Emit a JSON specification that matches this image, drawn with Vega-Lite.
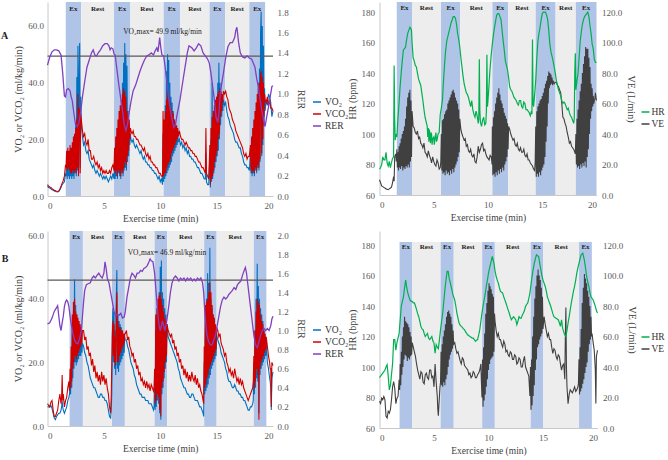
{
"$schema":"https://vega.github.io/schema/vega-lite/v6.json",
"autosize":{"type":"none"},
"padding":{"left":47.5,"top":2,"right":620,"bottom":458},
"config":{"font":"Liberation Serif","view":{"stroke":null},
"axis":{"grid":false,"ticks":false,"labelOverlap":false,"labelFont":"Liberation Serif","titleFont":"Liberation Serif","labelFontSize":9,"labelColor":"#595959","titleFontSize":10,"titleFontWeight":"normal","titleColor":"#404040","domainColor":"#C8C8C8","labelPadding":4,"titlePadding":4},
"legend":{"labelFont":"Liberation Serif","labelFontSize":9.5,"labelColor":"#333333","symbolType":"stroke","symbolSize":64,"symbolStrokeWidth":1.5,"rowPadding":2,"labelOffset":3}},
"datasets":{
"bTL":[{"a":1.62,"b":2.99,"m":2.3,"k":"Ex"},{"a":2.99,"b":5.9,"m":4.45,"k":"Rest"},{"a":5.9,"b":7.35,"m":6.62,"k":"Ex"},{"a":7.35,"b":10.3,"m":8.82,"k":"Rest"},{"a":10.3,"b":11.75,"m":11.02,"k":"Ex"},{"a":11.75,"b":14.38,"m":13.06,"k":"Rest"},{"a":14.38,"b":15.75,"m":15.06,"k":"Ex"},{"a":15.75,"b":17.9,"m":16.82,"k":"Rest"},{"a":17.9,"b":19.3,"m":18.6,"k":"Ex"}],
"bTR":[{"a":1.59,"b":3.0,"m":2.3,"k":"Ex"},{"a":3.0,"b":5.67,"m":4.33,"k":"Rest"},{"a":5.67,"b":7.44,"m":6.55,"k":"Ex"},{"a":7.44,"b":10.41,"m":8.92,"k":"Rest"},{"a":10.41,"b":11.85,"m":11.13,"k":"Ex"},{"a":11.85,"b":14.4,"m":13.12,"k":"Rest"},{"a":14.4,"b":16.23,"m":15.31,"k":"Ex"},{"a":16.23,"b":18.1,"m":17.16,"k":"Rest"},{"a":18.1,"b":20,"m":19.05,"k":"Ex"}],
"bBL":[{"a":1.96,"b":3.14,"m":2.55,"k":"Ex"},{"a":3.14,"b":5.72,"m":4.43,"k":"Rest"},{"a":5.72,"b":6.86,"m":6.29,"k":"Ex"},{"a":6.86,"b":9.5,"m":8.18,"k":"Rest"},{"a":9.5,"b":10.62,"m":10.06,"k":"Ex"},{"a":10.62,"b":13.9,"m":12.26,"k":"Rest"},{"a":13.9,"b":15.0,"m":14.45,"k":"Ex"},{"a":15.0,"b":18.3,"m":16.65,"k":"Rest"},{"a":18.3,"b":19.41,"m":18.86,"k":"Ex"}],
"bBR":[{"a":1.84,"b":3.0,"m":2.42,"k":"Ex"},{"a":3.0,"b":5.61,"m":4.3,"k":"Rest"},{"a":5.61,"b":6.81,"m":6.21,"k":"Ex"},{"a":6.81,"b":9.42,"m":8.12,"k":"Rest"},{"a":9.42,"b":10.58,"m":10.0,"k":"Ex"},{"a":10.58,"b":13.87,"m":12.22,"k":"Rest"},{"a":13.87,"b":15.03,"m":14.45,"k":"Ex"},{"a":15.03,"b":18.31,"m":16.67,"k":"Rest"},{"a":18.31,"b":19.48,"m":18.9,"k":"Ex"}],
"TL":[{"t":0,"o":3.5,"c":4},{"t":0.1,"o":3,"c":3.5},{"t":0.2,"o":2.8,"c":3.2},{"t":0.3,"o":2.5,"c":3},{"t":0.4,"o":2.2,"c":2.6},{"t":0.5,"o":2,"c":2.3},{"t":0.6,"o":1.8,"c":2},{"t":0.7,"o":1.6,"c":1.9},{"t":0.8,"o":1.5,"c":1.7},{"t":0.9,"o":1.4,"c":1.6},{"t":1,"o":1.6,"c":1.8},{"t":1.1,"o":2.2,"c":2.5},{"t":1.2,"o":3,"c":3.5},{"t":1.3,"o":4,"c":4.5},{"t":1.4,"o":4.5,"c":5.5},{"t":1.5,"o":5,"c":7},{"t":1.6,"o":8,"c":11},
{"t":1.65,"o":7,"c":10},{"t":1.7,"o":12,"c":16},{"t":1.75,"o":6,"c":9},{"t":1.8,"o":13,"c":17},{"t":1.85,"o":7,"c":10},{"t":1.9,"o":12,"c":16},{"t":1.95,"o":6,"c":9},{"t":2,"o":14,"c":18},{"t":2.05,"o":7,"c":8},{"t":2.1,"o":13,"c":17},{"t":2.15,"o":6,"c":8},{"t":2.2,"o":15,"c":19},{"t":2.25,"o":7,"c":9},{"t":2.3,"o":17,"c":21},{"t":2.35,"o":6,"c":8},{"t":2.4,"o":20,"c":22},{"t":2.45,"o":8,"c":9},{"t":2.5,"o":26,"c":24},{"t":2.55,"o":7,"c":8},{"t":2.6,"o":42,"c":27},{"t":2.65,"o":9,"c":10},{"t":2.7,"o":53,"c":36},{"t":2.75,"o":8,"c":7},{"t":2.8,"o":40,"c":31},{"t":2.85,"o":54,"c":30},{"t":2.9,"o":10,"c":8},{"t":2.95,"o":35,"c":29},{"t":3,"o":25,"c":27},
{"t":3.1,"o":21,"c":23},{"t":3.2,"o":18,"c":21},{"t":3.3,"o":19,"c":22},{"t":3.4,"o":16,"c":19},{"t":3.5,"o":15,"c":18},{"t":3.6,"o":16,"c":20},{"t":3.7,"o":13,"c":16},{"t":3.8,"o":12,"c":16},{"t":3.9,"o":11,"c":13},{"t":4,"o":10,"c":13},{"t":4.1,"o":11,"c":14},{"t":4.2,"o":9,"c":12},{"t":4.3,"o":8,"c":11},{"t":4.4,"o":9,"c":12},{"t":4.5,"o":8,"c":10},{"t":4.6,"o":7,"c":11},{"t":4.7,"o":8,"c":9},{"t":4.8,"o":7,"c":10},{"t":4.9,"o":6,"c":8},{"t":5,"o":7,"c":9},{"t":5.1,"o":6,"c":8},{"t":5.2,"o":7,"c":9},{"t":5.3,"o":6,"c":8},{"t":5.4,"o":5,"c":8},{"t":5.5,"o":6,"c":9},{"t":5.6,"o":7,"c":8},{"t":5.7,"o":6,"c":10},{"t":5.8,"o":8,"c":11},{"t":5.9,"o":6,"c":9},
{"t":5.95,"o":14,"c":17},{"t":6,"o":6,"c":8},{"t":6.05,"o":18,"c":21},{"t":6.1,"o":7,"c":9},{"t":6.15,"o":20,"c":24},{"t":6.2,"o":6,"c":7},{"t":6.25,"o":22,"c":27},{"t":6.3,"o":8,"c":9},{"t":6.35,"o":25,"c":30},{"t":6.4,"o":7,"c":8},{"t":6.45,"o":27,"c":32},{"t":6.5,"o":6,"c":7},{"t":6.55,"o":30,"c":34},{"t":6.6,"o":8,"c":9},{"t":6.65,"o":40,"c":36},{"t":6.7,"o":7,"c":8},{"t":6.75,"o":47,"c":38},{"t":6.8,"o":9,"c":10},{"t":6.85,"o":54,"c":37},{"t":6.9,"o":10,"c":12},{"t":6.95,"o":50,"c":35},{"t":7,"o":9,"c":11},{"t":7.05,"o":46,"c":30},{"t":7.1,"o":12,"c":14},{"t":7.15,"o":30,"c":28},{"t":7.2,"o":14,"c":16},{"t":7.25,"o":25,"c":27},{"t":7.3,"o":18,"c":20},{"t":7.35,"o":22,"c":24},
{"t":7.4,"o":20,"c":23},{"t":7.5,"o":19,"c":22},{"t":7.6,"o":20,"c":23},{"t":7.7,"o":18,"c":21},{"t":7.8,"o":17,"c":21},{"t":7.9,"o":18,"c":20},{"t":8,"o":17,"c":20},{"t":8.1,"o":16,"c":19},{"t":8.2,"o":15,"c":18},{"t":8.3,"o":16,"c":18},{"t":8.4,"o":14,"c":17},{"t":8.5,"o":13,"c":16},{"t":8.6,"o":14,"c":17},{"t":8.7,"o":12,"c":15},{"t":8.8,"o":12,"c":14},{"t":8.9,"o":11,"c":15},{"t":9,"o":11,"c":13},{"t":9.1,"o":10,"c":14},{"t":9.2,"o":10,"c":12},{"t":9.3,"o":9,"c":12},{"t":9.4,"o":9,"c":11},{"t":9.5,"o":8,"c":11},{"t":9.6,"o":8,"c":10},{"t":9.7,"o":7,"c":10},{"t":9.8,"o":6,"c":9},{"t":9.9,"o":7,"c":8},{"t":10,"o":5,"c":8},{"t":10.1,"o":6,"c":7},{"t":10.2,"o":4,"c":7},{"t":10.25,"o":22,"c":30},{"t":10.3,"o":5,"c":7},
{"t":10.35,"o":25,"c":27},{"t":10.4,"o":6,"c":8},{"t":10.45,"o":32,"c":30},{"t":10.5,"o":7,"c":8},{"t":10.55,"o":44,"c":34},{"t":10.6,"o":8,"c":10},{"t":10.65,"o":50,"c":37},{"t":10.7,"o":9,"c":11},{"t":10.75,"o":48,"c":36},{"t":10.8,"o":10,"c":12},{"t":10.85,"o":40,"c":33},{"t":10.9,"o":11,"c":13},{"t":10.95,"o":35,"c":31},{"t":11,"o":12,"c":15},{"t":11.05,"o":33,"c":30},{"t":11.1,"o":14,"c":16},{"t":11.15,"o":30,"c":29},{"t":11.2,"o":15,"c":17},{"t":11.25,"o":27,"c":27},{"t":11.3,"o":16,"c":18},{"t":11.35,"o":25,"c":26},{"t":11.4,"o":17,"c":19},{"t":11.45,"o":24,"c":25},{"t":11.5,"o":18,"c":20},{"t":11.55,"o":22,"c":24},{"t":11.6,"o":19,"c":21},{"t":11.7,"o":20,"c":23},{"t":11.75,"o":19,"c":22},
{"t":11.8,"o":18,"c":21},{"t":11.9,"o":19,"c":20},{"t":12,"o":17,"c":20},{"t":12.1,"o":18,"c":19},{"t":12.2,"o":16,"c":18},{"t":12.3,"o":17,"c":19},{"t":12.4,"o":15,"c":18},{"t":12.5,"o":16,"c":17},{"t":12.6,"o":14,"c":17},{"t":12.7,"o":14,"c":16},{"t":12.8,"o":13,"c":16},{"t":12.9,"o":13,"c":15},{"t":13,"o":12,"c":15},{"t":13.1,"o":12,"c":14},{"t":13.2,"o":11,"c":14},{"t":13.3,"o":10,"c":13},{"t":13.4,"o":10,"c":12},{"t":13.5,"o":9,"c":12},{"t":13.6,"o":8,"c":11},{"t":13.7,"o":8,"c":10},{"t":13.8,"o":7,"c":10},{"t":13.9,"o":6,"c":9},{"t":14,"o":6,"c":8},{"t":14.05,"o":15,"c":24},{"t":14.1,"o":5,"c":8},{"t":14.2,"o":4,"c":7},{"t":14.3,"o":4,"c":6},
{"t":14.4,"o":14,"c":18},{"t":14.45,"o":3,"c":4},{"t":14.5,"o":20,"c":24},{"t":14.55,"o":5,"c":6},{"t":14.6,"o":40,"c":28},{"t":14.65,"o":6,"c":7},{"t":14.7,"o":25,"c":30},{"t":14.75,"o":8,"c":9},{"t":14.8,"o":28,"c":32},{"t":14.85,"o":10,"c":12},{"t":14.9,"o":30,"c":34},{"t":14.95,"o":12,"c":14},{"t":15,"o":35,"c":35},{"t":15.05,"o":14,"c":16},{"t":15.1,"o":40,"c":36},{"t":15.15,"o":16,"c":20},{"t":15.2,"o":47,"c":37},{"t":15.25,"o":20,"c":22},{"t":15.3,"o":40,"c":38},{"t":15.35,"o":25,"c":28},{"t":15.4,"o":36,"c":37},{"t":15.45,"o":28,"c":30},{"t":15.5,"o":35,"c":36},{"t":15.55,"o":30,"c":33},{"t":15.6,"o":34,"c":37},{"t":15.7,"o":32,"c":36},
{"t":15.8,"o":33,"c":37},{"t":15.9,"o":30,"c":35},{"t":16,"o":28,"c":34},{"t":16.1,"o":27,"c":31},{"t":16.2,"o":25,"c":30},{"t":16.3,"o":24,"c":29},{"t":16.4,"o":23,"c":27},{"t":16.5,"o":22,"c":26},{"t":16.6,"o":20,"c":25},{"t":16.7,"o":19,"c":23},{"t":16.8,"o":19,"c":22},{"t":16.9,"o":18,"c":21},{"t":17,"o":17,"c":20},{"t":17.1,"o":17,"c":19},{"t":17.2,"o":15,"c":18},{"t":17.3,"o":14,"c":17},{"t":17.4,"o":12,"c":15},{"t":17.5,"o":11,"c":14},{"t":17.6,"o":11,"c":15},{"t":17.7,"o":10,"c":13},{"t":17.8,"o":10,"c":14},{"t":17.9,"o":9,"c":14},
{"t":18,"o":15,"c":18},{"t":18.05,"o":8,"c":9},{"t":18.1,"o":18,"c":21},{"t":18.15,"o":7,"c":8},{"t":18.2,"o":20,"c":24},{"t":18.25,"o":8,"c":9},{"t":18.3,"o":22,"c":27},{"t":18.35,"o":7,"c":8},{"t":18.4,"o":25,"c":30},{"t":18.45,"o":9,"c":10},{"t":18.5,"o":28,"c":33},{"t":18.55,"o":8,"c":9},{"t":18.6,"o":33,"c":36},{"t":18.65,"o":10,"c":11},{"t":18.7,"o":40,"c":38},{"t":18.75,"o":9,"c":10},{"t":18.8,"o":45,"c":40},{"t":18.85,"o":12,"c":13},{"t":18.9,"o":58,"c":43},{"t":18.95,"o":65,"c":44},{"t":19,"o":14,"c":15},{"t":19.05,"o":60,"c":42},{"t":19.1,"o":18,"c":20},{"t":19.15,"o":53,"c":40},{"t":19.2,"o":25,"c":28},{"t":19.25,"o":38,"c":36},{"t":19.3,"o":30,"c":34},
{"t":19.4,"o":34,"c":33},{"t":19.5,"o":32,"c":35},{"t":19.6,"o":36,"c":32},{"t":19.7,"o":35,"c":34},{"t":19.8,"o":33,"c":31},{"t":19.9,"o":28,"c":31},{"t":20,"o":30,"c":30}],
"rTL":[{"t":0,"r":1.28},{"t":0.2,"r":1.36},{"t":0.4,"r":1.41},{"t":0.6,"r":1.43},{"t":0.8,"r":1.43},{"t":1,"r":1.42},{"t":1.2,"r":1.38},{"t":1.35,"r":1.2},{"t":1.5,"r":0.98},{"t":1.6,"r":0.97},{"t":1.7,"r":1.04},{"t":1.85,"r":1.05},{"t":2,"r":1.03},{"t":2.1,"r":0.97},{"t":2.2,"r":0.93},{"t":2.35,"r":0.8},{"t":2.5,"r":0.69},{"t":2.65,"r":0.68},{"t":2.8,"r":0.72},{"t":2.95,"r":0.83},{"t":3.1,"r":0.97},{"t":3.3,"r":1.12},{"t":3.5,"r":1.26},{"t":3.7,"r":1.33},{"t":3.9,"r":1.4},{"t":4.05,"r":1.43},{"t":4.2,"r":1.38},{"t":4.35,"r":1.37},{"t":4.5,"r":1.4},{"t":4.7,"r":1.43},{"t":4.9,"r":1.47},{"t":5.1,"r":1.49},{"t":5.3,"r":1.49},{"t":5.45,"r":1.47},{"t":5.55,"r":1.43},{"t":5.65,"r":1.45},{"t":5.8,"r":1.44},{"t":5.9,"r":1.39},{"t":6,"r":1.38},{"t":6.2,"r":1.2},{"t":6.35,"r":1.07},{"t":6.5,"r":0.95},{"t":6.65,"r":0.84},{"t":6.8,"r":0.7},{"t":6.95,"r":0.64},{"t":7.1,"r":0.7},{"t":7.25,"r":0.82},{"t":7.4,"r":0.92},{"t":7.6,"r":1.03},{"t":7.8,"r":1.08},{"t":8,"r":1.15},{"t":8.2,"r":1.22},{"t":8.4,"r":1.28},{"t":8.6,"r":1.33},{"t":8.8,"r":1.37},{"t":9,"r":1.38},{"t":9.2,"r":1.4},{"t":9.4,"r":1.38},{"t":9.55,"r":1.42},{"t":9.7,"r":1.45},{"t":9.8,"r":1.41},{"t":9.95,"r":1.55},{"t":10.05,"r":1.45},{"t":10.15,"r":1.38},{"t":10.3,"r":1.37},{"t":10.45,"r":1.25},{"t":10.6,"r":1.1},{"t":10.75,"r":0.95},{"t":10.9,"r":0.84},{"t":11.05,"r":0.75},{"t":11.2,"r":0.67},{"t":11.35,"r":0.7},{"t":11.5,"r":0.8},{"t":11.75,"r":0.94},{"t":12,"r":1.12},{"t":12.2,"r":1.26},{"t":12.4,"r":1.4},{"t":12.55,"r":1.47},{"t":12.8,"r":1.45},{"t":13,"r":1.42},{"t":13.2,"r":1.45},{"t":13.4,"r":1.49},{"t":13.6,"r":1.47},{"t":13.8,"r":1.4},{"t":14,"r":1.37},{"t":14.2,"r":1.34},{"t":14.35,"r":1.3},{"t":14.5,"r":1.2},{"t":14.65,"r":1.07},{"t":14.8,"r":0.94},{"t":14.95,"r":0.77},{"t":15.1,"r":0.72},{"t":15.2,"r":0.8},{"t":15.3,"r":0.97},{"t":15.45,"r":1.1},{"t":15.6,"r":1.2},{"t":15.8,"r":1.35},{"t":16,"r":1.46},{"t":16.2,"r":1.5},{"t":16.4,"r":1.5},{"t":16.6,"r":1.55},{"t":16.7,"r":1.62},{"t":16.8,"r":1.65},{"t":16.95,"r":1.5},{"t":17.1,"r":1.4},{"t":17.3,"r":1.36},{"t":17.5,"r":1.35},{"t":17.7,"r":1.37},{"t":17.9,"r":1.35},{"t":18.1,"r":1.34},{"t":18.25,"r":1.3},{"t":18.4,"r":1.26},{"t":18.55,"r":1.15},{"t":18.7,"r":1.07},{"t":18.85,"r":0.95},{"t":19,"r":0.84},{"t":19.15,"r":0.75},{"t":19.3,"r":0.68},{"t":19.45,"r":0.78},{"t":19.6,"r":0.87},{"t":19.75,"r":0.97},{"t":19.9,"r":1.07},{"t":20,"r":1.08}],
"hTR":[{"t":0,"h":77},{"t":0.1,"h":78},{"t":0.2,"h":80},{"t":0.3,"h":85},{"t":0.4,"h":83},{"t":0.5,"h":83},{"t":0.6,"h":88},{"t":0.7,"h":81},{"t":0.8,"h":79},{"t":0.9,"h":82},{"t":1,"h":78},{"t":1.1,"h":81},{"t":1.2,"h":84},{"t":1.3,"h":85},{"t":1.35,"h":145},{"t":1.4,"h":110},{"t":1.45,"h":96},{"t":1.5,"h":100},{"t":1.6,"h":98},{"t":1.7,"h":110},{"t":1.8,"h":120},{"t":1.9,"h":131},{"t":2,"h":140},{"t":2.1,"h":148},{"t":2.2,"h":155},{"t":2.3,"h":156},{"t":2.4,"h":157},{"t":2.5,"h":162},{"t":2.6,"h":166},{"t":2.7,"h":168},{"t":2.8,"h":170},{"t":2.9,"h":169},{"t":2.95,"h":168},{"t":3,"h":160},{"t":3.1,"h":150},{"t":3.2,"h":148},{"t":3.3,"h":145},{"t":3.4,"h":144},{"t":3.5,"h":140},{"t":3.6,"h":136},{"t":3.7,"h":134},{"t":3.8,"h":132},{"t":3.9,"h":127},{"t":4,"h":122},{"t":4.1,"h":116},{"t":4.2,"h":111},{"t":4.3,"h":108},{"t":4.4,"h":105},{"t":4.45,"h":98},{"t":4.5,"h":104},{"t":4.55,"h":95},{"t":4.6,"h":103},{"t":4.7,"h":94},{"t":4.75,"h":101},{"t":4.8,"h":100},{"t":4.85,"h":93},{"t":4.9,"h":97},{"t":5,"h":98},{"t":5.05,"h":93},{"t":5.1,"h":96},{"t":5.2,"h":101},{"t":5.25,"h":95},{"t":5.3,"h":96},{"t":5.4,"h":100},{"t":5.5,"h":101},{"t":5.6,"h":113},{"t":5.7,"h":117},{"t":5.8,"h":122},{"t":5.9,"h":135},{"t":6,"h":146},{"t":6.1,"h":155},{"t":6.2,"h":161},{"t":6.3,"h":164},{"t":6.4,"h":167},{"t":6.5,"h":170},{"t":6.6,"h":173},{"t":6.7,"h":175},{"t":6.8,"h":177},{"t":6.9,"h":177},{"t":7,"h":176},{"t":7.1,"h":172},{"t":7.2,"h":166},{"t":7.3,"h":162},{"t":7.4,"h":157},{"t":7.5,"h":150},{"t":7.6,"h":144},{"t":7.7,"h":138},{"t":7.8,"h":133},{"t":7.9,"h":130},{"t":8,"h":127},{"t":8.1,"h":126},{"t":8.2,"h":124},{"t":8.3,"h":121},{"t":8.4,"h":118},{"t":8.5,"h":122},{"t":8.6,"h":116},{"t":8.7,"h":113},{"t":8.8,"h":111},{"t":8.9,"h":115},{"t":9,"h":112},{"t":9.1,"h":107},{"t":9.15,"h":110},{"t":9.2,"h":149},{"t":9.25,"h":115},{"t":9.3,"h":108},{"t":9.4,"h":105},{"t":9.5,"h":109},{"t":9.6,"h":111},{"t":9.7,"h":106},{"t":9.8,"h":107},{"t":9.85,"h":115},{"t":9.9,"h":152},{"t":9.95,"h":118},{"t":10,"h":122},{"t":10.1,"h":133},{"t":10.2,"h":144},{"t":10.3,"h":152},{"t":10.4,"h":159},{"t":10.5,"h":165},{"t":10.6,"h":170},{"t":10.7,"h":174},{"t":10.8,"h":178},{"t":10.9,"h":179},{"t":11,"h":179},{"t":11.1,"h":177},{"t":11.2,"h":175},{"t":11.3,"h":168},{"t":11.4,"h":161},{"t":11.5,"h":155},{"t":11.6,"h":148},{"t":11.7,"h":145},{"t":11.8,"h":142},{"t":11.9,"h":137},{"t":12,"h":131},{"t":12.1,"h":129},{"t":12.2,"h":128},{"t":12.3,"h":126},{"t":12.4,"h":124},{"t":12.5,"h":123},{"t":12.6,"h":122},{"t":12.7,"h":120},{"t":12.8,"h":119},{"t":12.9,"h":122},{"t":13,"h":122},{"t":13.1,"h":118},{"t":13.2,"h":117},{"t":13.3,"h":121},{"t":13.4,"h":120},{"t":13.5,"h":116},{"t":13.6,"h":116},{"t":13.7,"h":115},{"t":13.8,"h":114},{"t":13.9,"h":112},{"t":14,"h":115},{"t":14.05,"h":113},{"t":14.1,"h":162},{"t":14.15,"h":120},{"t":14.2,"h":118},{"t":14.3,"h":126},{"t":14.4,"h":135},{"t":14.5,"h":150},{"t":14.6,"h":161},{"t":14.7,"h":166},{"t":14.8,"h":170},{"t":14.9,"h":175},{"t":15,"h":179},{"t":15.1,"h":180},{"t":15.2,"h":180},{"t":15.3,"h":180},{"t":15.4,"h":178},{"t":15.5,"h":175},{"t":15.6,"h":168},{"t":15.7,"h":159},{"t":15.8,"h":154},{"t":15.9,"h":151},{"t":16,"h":148},{"t":16.1,"h":144},{"t":16.2,"h":140},{"t":16.3,"h":135},{"t":16.4,"h":132},{"t":16.5,"h":129},{"t":16.6,"h":127},{"t":16.7,"h":125},{"t":16.8,"h":122},{"t":16.9,"h":120},{"t":17,"h":121},{"t":17.1,"h":120},{"t":17.2,"h":118},{"t":17.3,"h":116},{"t":17.4,"h":117},{"t":17.5,"h":114},{"t":17.6,"h":112},{"t":17.7,"h":111},{"t":17.8,"h":109},{"t":17.9,"h":107},{"t":17.95,"h":110},{"t":18,"h":141},{"t":18.05,"h":153},{"t":18.1,"h":129},{"t":18.2,"h":135},{"t":18.3,"h":140},{"t":18.4,"h":150},{"t":18.5,"h":161},{"t":18.6,"h":167},{"t":18.7,"h":172},{"t":18.8,"h":175},{"t":18.9,"h":177},{"t":19,"h":178},{"t":19.1,"h":179},{"t":19.2,"h":180},{"t":19.3,"h":177},{"t":19.4,"h":171},{"t":19.5,"h":166},{"t":19.6,"h":159},{"t":19.7,"h":156},{"t":19.8,"h":149},{"t":19.9,"h":147},{"t":20,"h":147}],
"vTR":[{"t":0,"v":10},{"t":0.1,"v":8},{"t":0.2,"v":6},{"t":0.3,"v":5.5},{"t":0.4,"v":5},{"t":0.5,"v":4.6},{"t":0.6,"v":4},{"t":0.7,"v":3.8},{"t":0.8,"v":3.5},{"t":0.9,"v":4},{"t":1,"v":4.6},{"t":1.1,"v":5},{"t":1.2,"v":8},{"t":1.3,"v":12},{"t":1.35,"v":9},{"t":1.4,"v":25},{"t":1.5,"v":27},{"t":1.55,"v":22},{"t":1.6,"v":30},{"t":1.65,"v":18},{"t":1.7,"v":28},{"t":1.75,"v":16},{"t":1.8,"v":32},{"t":1.85,"v":18},{"t":1.9,"v":34},{"t":1.95,"v":17},{"t":2,"v":37},{"t":2.05,"v":19},{"t":2.1,"v":40},{"t":2.15,"v":16},{"t":2.2,"v":42},{"t":2.25,"v":18},{"t":2.3,"v":45},{"t":2.35,"v":17},{"t":2.4,"v":50},{"t":2.45,"v":19},{"t":2.5,"v":58},{"t":2.55,"v":18},{"t":2.6,"v":64},{"t":2.65,"v":20},{"t":2.7,"v":67},{"t":2.75,"v":18},{"t":2.8,"v":69},{"t":2.85,"v":22},{"t":2.9,"v":62},{"t":2.95,"v":25},{"t":3,"v":55},{"t":3.1,"v":45},{"t":3.2,"v":44},{"t":3.3,"v":41},{"t":3.4,"v":40},{"t":3.5,"v":42},{"t":3.6,"v":37},{"t":3.7,"v":38},{"t":3.8,"v":34},{"t":3.9,"v":33},{"t":4,"v":31},{"t":4.1,"v":34},{"t":4.2,"v":28},{"t":4.3,"v":27},{"t":4.4,"v":25},{"t":4.5,"v":29},{"t":4.6,"v":26},{"t":4.7,"v":24},{"t":4.8,"v":21},{"t":4.9,"v":25},{"t":5,"v":22},{"t":5.1,"v":20},{"t":5.2,"v":19},{"t":5.3,"v":23},{"t":5.4,"v":21},{"t":5.5,"v":17},{"t":5.6,"v":18},{"t":5.65,"v":22},{"t":5.7,"v":40},{"t":5.75,"v":16},{"t":5.8,"v":49},{"t":5.85,"v":14},{"t":5.9,"v":50},{"t":5.95,"v":15},{"t":6,"v":53},{"t":6.05,"v":13},{"t":6.1,"v":55},{"t":6.15,"v":16},{"t":6.2,"v":56},{"t":6.25,"v":14},{"t":6.3,"v":60},{"t":6.35,"v":15},{"t":6.4,"v":62},{"t":6.45,"v":13},{"t":6.5,"v":64},{"t":6.55,"v":16},{"t":6.6,"v":66},{"t":6.65,"v":14},{"t":6.7,"v":68},{"t":6.75,"v":17},{"t":6.8,"v":69},{"t":6.85,"v":15},{"t":6.9,"v":67},{"t":6.95,"v":18},{"t":7,"v":64},{"t":7.05,"v":20},{"t":7.1,"v":62},{"t":7.15,"v":22},{"t":7.2,"v":60},{"t":7.25,"v":25},{"t":7.3,"v":56},{"t":7.35,"v":28},{"t":7.4,"v":50},{"t":7.5,"v":43},{"t":7.6,"v":40},{"t":7.7,"v":38},{"t":7.8,"v":36},{"t":7.9,"v":37},{"t":8,"v":32},{"t":8.1,"v":33},{"t":8.2,"v":29},{"t":8.3,"v":28},{"t":8.4,"v":30},{"t":8.5,"v":26},{"t":8.6,"v":25},{"t":8.7,"v":27},{"t":8.8,"v":22},{"t":8.9,"v":21},{"t":9,"v":25},{"t":9.1,"v":32},{"t":9.2,"v":28},{"t":9.3,"v":30},{"t":9.4,"v":33},{"t":9.5,"v":34},{"t":9.6,"v":29},{"t":9.7,"v":30},{"t":9.8,"v":27},{"t":9.9,"v":25},{"t":10,"v":24},{"t":10.1,"v":23},{"t":10.2,"v":26},{"t":10.3,"v":25},{"t":10.38,"v":20},{"t":10.4,"v":45},{"t":10.45,"v":13},{"t":10.5,"v":51},{"t":10.55,"v":14},{"t":10.6,"v":55},{"t":10.65,"v":12},{"t":10.7,"v":60},{"t":10.75,"v":15},{"t":10.8,"v":64},{"t":10.85,"v":13},{"t":10.9,"v":67},{"t":10.95,"v":16},{"t":11,"v":70},{"t":11.05,"v":14},{"t":11.1,"v":66},{"t":11.15,"v":17},{"t":11.2,"v":62},{"t":11.25,"v":15},{"t":11.3,"v":60},{"t":11.35,"v":18},{"t":11.4,"v":57},{"t":11.45,"v":16},{"t":11.5,"v":54},{"t":11.55,"v":20},{"t":11.6,"v":52},{"t":11.65,"v":22},{"t":11.7,"v":50},{"t":11.75,"v":25},{"t":11.8,"v":47},{"t":11.85,"v":30},{"t":11.9,"v":45},{"t":12,"v":43},{"t":12.1,"v":40},{"t":12.2,"v":38},{"t":12.3,"v":36},{"t":12.4,"v":37},{"t":12.5,"v":33},{"t":12.6,"v":32},{"t":12.7,"v":34},{"t":12.8,"v":30},{"t":12.9,"v":29},{"t":13,"v":31},{"t":13.1,"v":28},{"t":13.2,"v":28},{"t":13.3,"v":30},{"t":13.4,"v":26},{"t":13.5,"v":25},{"t":13.6,"v":27},{"t":13.7,"v":23},{"t":13.8,"v":23},{"t":13.9,"v":21},{"t":14,"v":20},{"t":14.1,"v":19},{"t":14.2,"v":17},{"t":14.3,"v":16},{"t":14.35,"v":22},{"t":14.4,"v":45},{"t":14.45,"v":12},{"t":14.5,"v":55},{"t":14.55,"v":14},{"t":14.6,"v":58},{"t":14.65,"v":12},{"t":14.7,"v":60},{"t":14.75,"v":15},{"t":14.8,"v":62},{"t":14.85,"v":13},{"t":14.9,"v":63},{"t":14.95,"v":16},{"t":15,"v":65},{"t":15.05,"v":18},{"t":15.1,"v":67},{"t":15.15,"v":20},{"t":15.2,"v":70},{"t":15.25,"v":25},{"t":15.3,"v":73},{"t":15.35,"v":35},{"t":15.4,"v":75},{"t":15.45,"v":45},{"t":15.5,"v":78},{"t":15.55,"v":60},{"t":15.6,"v":81},{"t":15.65,"v":70},{"t":15.7,"v":80},{"t":15.75,"v":72},{"t":15.8,"v":79},{"t":15.85,"v":73},{"t":15.9,"v":77},{"t":15.95,"v":72},{"t":16,"v":75},{"t":16.1,"v":73},{"t":16.2,"v":74},{"t":16.3,"v":74},{"t":16.4,"v":72},{"t":16.5,"v":71},{"t":16.6,"v":69},{"t":16.7,"v":67},{"t":16.8,"v":60},{"t":16.9,"v":51},{"t":17,"v":50},{"t":17.1,"v":47},{"t":17.2,"v":45},{"t":17.3,"v":41},{"t":17.4,"v":38},{"t":17.5,"v":34},{"t":17.6,"v":35},{"t":17.7,"v":32},{"t":17.8,"v":31},{"t":17.9,"v":30},{"t":18,"v":28},{"t":18.05,"v":27},{"t":18.1,"v":40},{"t":18.15,"v":20},{"t":18.2,"v":50},{"t":18.25,"v":18},{"t":18.3,"v":56},{"t":18.35,"v":19},{"t":18.4,"v":62},{"t":18.45,"v":17},{"t":18.5,"v":68},{"t":18.55,"v":20},{"t":18.6,"v":73},{"t":18.65,"v":18},{"t":18.7,"v":80},{"t":18.75,"v":21},{"t":18.8,"v":86},{"t":18.85,"v":19},{"t":18.9,"v":91},{"t":18.95,"v":22},{"t":19,"v":97},{"t":19.05,"v":18},{"t":19.1,"v":96},{"t":19.15,"v":25},{"t":19.2,"v":96},{"t":19.25,"v":30},{"t":19.3,"v":90},{"t":19.35,"v":40},{"t":19.4,"v":84},{"t":19.45,"v":50},{"t":19.5,"v":73},{"t":19.55,"v":55},{"t":19.6,"v":70},{"t":19.65,"v":58},{"t":19.7,"v":65},{"t":19.75,"v":60},{"t":19.8,"v":62},{"t":19.85,"v":63},{"t":19.9,"v":67},{"t":19.95,"v":64},{"t":20,"v":62}],
"BL":[{"t":0,"o":6,"c":7},{"t":0.1,"o":6,"c":6.5},{"t":0.2,"o":6,"c":6},{"t":0.3,"o":6.5,"c":7.5},{"t":0.4,"o":5.5,"c":8},{"t":0.5,"o":4,"c":5},{"t":0.6,"o":2.5,"c":3},{"t":0.7,"o":2,"c":3},{"t":0.8,"o":3,"c":4},{"t":0.9,"o":3.5,"c":5},{"t":1,"o":4,"c":8},{"t":1.1,"o":4,"c":10},{"t":1.2,"o":5,"c":7},{"t":1.25,"o":6,"c":9},{"t":1.3,"o":8,"c":16},{"t":1.35,"o":6,"c":8},{"t":1.4,"o":5,"c":10},{"t":1.5,"o":4,"c":6},{"t":1.6,"o":5,"c":8},{"t":1.7,"o":6,"c":9},{"t":1.8,"o":8,"c":12},{"t":1.9,"o":9,"c":14},{"t":1.95,"o":10,"c":11},
{"t":2,"o":14,"c":18},{"t":2.05,"o":10,"c":12},{"t":2.1,"o":20,"c":25},{"t":2.15,"o":12,"c":14},{"t":2.2,"o":30,"c":35},{"t":2.25,"o":15,"c":18},{"t":2.3,"o":36,"c":39},{"t":2.35,"o":18,"c":20},{"t":2.4,"o":46,"c":40},{"t":2.45,"o":20,"c":22},{"t":2.5,"o":38,"c":36},{"t":2.55,"o":19,"c":21},{"t":2.6,"o":35,"c":35},{"t":2.65,"o":20,"c":22},{"t":2.7,"o":33,"c":34},{"t":2.75,"o":21,"c":23},{"t":2.8,"o":32,"c":33},{"t":2.85,"o":22,"c":24},{"t":2.9,"o":30,"c":32},{"t":2.95,"o":22,"c":25},{"t":3,"o":28,"c":31},{"t":3.05,"o":23,"c":26},{"t":3.1,"o":26,"c":30},
{"t":3.2,"o":25,"c":30},{"t":3.3,"o":23,"c":27},{"t":3.4,"o":22,"c":28},{"t":3.5,"o":20,"c":24},{"t":3.6,"o":19,"c":25},{"t":3.7,"o":17,"c":22},{"t":3.8,"o":15,"c":23},{"t":3.9,"o":14,"c":19},{"t":4,"o":13,"c":21},{"t":4.1,"o":12,"c":17},{"t":4.2,"o":12,"c":19},{"t":4.3,"o":11,"c":15},{"t":4.4,"o":10,"c":17},{"t":4.5,"o":9,"c":14},{"t":4.6,"o":9,"c":16},{"t":4.7,"o":10,"c":13},{"t":4.8,"o":10,"c":17},{"t":4.9,"o":9,"c":14},{"t":5,"o":9,"c":16},{"t":5.1,"o":8,"c":13},{"t":5.2,"o":8,"c":15},{"t":5.3,"o":7,"c":12},{"t":5.4,"o":5,"c":10},{"t":5.5,"o":3,"c":6},{"t":5.6,"o":2.5,"c":4},{"t":5.65,"o":5,"c":9},{"t":5.7,"o":10,"c":18},
{"t":5.75,"o":30,"c":28},{"t":5.8,"o":37,"c":33},{"t":5.85,"o":20,"c":22},{"t":5.9,"o":36,"c":32},{"t":5.95,"o":18,"c":20},{"t":6,"o":30,"c":28},{"t":6.05,"o":16,"c":19},{"t":6.1,"o":40,"c":36},{"t":6.15,"o":49,"c":42},{"t":6.2,"o":18,"c":20},{"t":6.25,"o":35,"c":33},{"t":6.3,"o":17,"c":20},{"t":6.35,"o":33,"c":31},{"t":6.4,"o":19,"c":22},{"t":6.45,"o":32,"c":31},{"t":6.5,"o":20,"c":23},{"t":6.55,"o":31,"c":30},{"t":6.6,"o":21,"c":24},{"t":6.65,"o":30,"c":30},{"t":6.7,"o":22,"c":25},{"t":6.75,"o":29,"c":29},{"t":6.8,"o":23,"c":26},{"t":6.85,"o":28,"c":29},
{"t":6.9,"o":27,"c":29},{"t":7,"o":27,"c":30},{"t":7.1,"o":25,"c":27},{"t":7.2,"o":24,"c":28},{"t":7.3,"o":22,"c":25},{"t":7.4,"o":20,"c":24},{"t":7.5,"o":19,"c":22},{"t":7.6,"o":18,"c":23},{"t":7.7,"o":16,"c":20},{"t":7.8,"o":15,"c":21},{"t":7.9,"o":13,"c":18},{"t":8,"o":12,"c":19},{"t":8.1,"o":11,"c":16},{"t":8.2,"o":10,"c":17},{"t":8.3,"o":10,"c":14},{"t":8.4,"o":9,"c":15},{"t":8.5,"o":9,"c":13},{"t":8.6,"o":9,"c":14},{"t":8.7,"o":8,"c":12},{"t":8.8,"o":8,"c":14},{"t":8.9,"o":8,"c":12},{"t":9,"o":7,"c":13},{"t":9.1,"o":7,"c":11},{"t":9.2,"o":7,"c":13},{"t":9.3,"o":6,"c":12},{"t":9.4,"o":5,"c":11},{"t":9.45,"o":6,"c":12},
{"t":9.5,"o":15,"c":18},{"t":9.55,"o":5,"c":7},{"t":9.6,"o":30,"c":35},{"t":9.65,"o":6,"c":8},{"t":9.7,"o":34,"c":37},{"t":9.75,"o":8,"c":10},{"t":9.8,"o":38,"c":40},{"t":9.85,"o":7,"c":9},{"t":9.9,"o":42,"c":41},{"t":9.95,"o":4,"c":5},{"t":10,"o":50,"c":42},{"t":10.05,"o":2,"c":3},{"t":10.1,"o":52,"c":40},{"t":10.15,"o":10,"c":12},{"t":10.2,"o":42,"c":38},{"t":10.25,"o":12,"c":14},{"t":10.3,"o":40,"c":36},{"t":10.35,"o":15,"c":17},{"t":10.4,"o":37,"c":34},{"t":10.45,"o":18,"c":20},{"t":10.5,"o":35,"c":33},{"t":10.55,"o":20,"c":22},{"t":10.6,"o":32,"c":32},
{"t":10.7,"o":28,"c":30},{"t":10.8,"o":27,"c":29},{"t":10.9,"o":26,"c":28},{"t":11,"o":25,"c":29},{"t":11.1,"o":24,"c":26},{"t":11.2,"o":23,"c":27},{"t":11.3,"o":22,"c":24},{"t":11.4,"o":21,"c":25},{"t":11.5,"o":20,"c":22},{"t":11.6,"o":18,"c":23},{"t":11.7,"o":17,"c":20},{"t":11.8,"o":15,"c":21},{"t":11.9,"o":14,"c":18},{"t":12,"o":13,"c":19},{"t":12.1,"o":12,"c":16},{"t":12.2,"o":12,"c":18},{"t":12.3,"o":11,"c":15},{"t":12.4,"o":10,"c":17},{"t":12.5,"o":10,"c":14},{"t":12.6,"o":9,"c":16},{"t":12.7,"o":9,"c":14},{"t":12.8,"o":10,"c":17},{"t":12.9,"o":10,"c":15},{"t":13,"o":9,"c":14},{"t":13.1,"o":8,"c":16},{"t":13.2,"o":8,"c":13},{"t":13.3,"o":8,"c":15},{"t":13.4,"o":7,"c":12},{"t":13.5,"o":6,"c":13},{"t":13.6,"o":6,"c":11},{"t":13.7,"o":5,"c":10},{"t":13.8,"o":4,"c":8},{"t":13.85,"o":3,"c":7},
{"t":13.9,"o":20,"c":25},{"t":13.95,"o":10,"c":12},{"t":14,"o":35,"c":38},{"t":14.05,"o":11,"c":13},{"t":14.1,"o":40,"c":39},{"t":14.15,"o":12,"c":15},{"t":14.2,"o":48,"c":40},{"t":14.25,"o":13,"c":16},{"t":14.3,"o":45,"c":42},{"t":14.35,"o":15,"c":18},{"t":14.4,"o":56,"c":45},{"t":14.45,"o":16,"c":19},{"t":14.5,"o":40,"c":42},{"t":14.55,"o":18,"c":20},{"t":14.6,"o":37,"c":38},{"t":14.65,"o":19,"c":21},{"t":14.7,"o":35,"c":35},{"t":14.75,"o":20,"c":22},{"t":14.8,"o":33,"c":34},{"t":14.85,"o":21,"c":23},{"t":14.9,"o":30,"c":32},{"t":14.95,"o":22,"c":24},{"t":15,"o":29,"c":31},
{"t":15.1,"o":27,"c":30},{"t":15.2,"o":26,"c":28},{"t":15.3,"o":25,"c":29},{"t":15.4,"o":23,"c":26},{"t":15.5,"o":22,"c":25},{"t":15.6,"o":21,"c":24},{"t":15.7,"o":20,"c":22},{"t":15.8,"o":18,"c":23},{"t":15.9,"o":17,"c":20},{"t":16,"o":15,"c":19},{"t":16.1,"o":14,"c":17},{"t":16.2,"o":14,"c":18},{"t":16.3,"o":13,"c":16},{"t":16.4,"o":12,"c":17},{"t":16.5,"o":12,"c":15},{"t":16.6,"o":13,"c":18},{"t":16.7,"o":12,"c":16},{"t":16.8,"o":11,"c":14},{"t":16.9,"o":11,"c":15},{"t":17,"o":10,"c":13},{"t":17.1,"o":10,"c":15},{"t":17.2,"o":9,"c":13},{"t":17.3,"o":9,"c":14},{"t":17.4,"o":8,"c":12},{"t":17.5,"o":8,"c":11},{"t":17.6,"o":7,"c":10},{"t":17.7,"o":6,"c":9},{"t":17.8,"o":5,"c":8},{"t":17.9,"o":5,"c":9},{"t":18,"o":6,"c":10},{"t":18.1,"o":6,"c":11},{"t":18.2,"o":7,"c":12},{"t":18.25,"o":8,"c":14},
{"t":18.3,"o":20,"c":22},{"t":18.35,"o":10,"c":12},{"t":18.4,"o":30,"c":30},{"t":18.45,"o":12,"c":14},{"t":18.5,"o":40,"c":36},{"t":18.55,"o":15,"c":18},{"t":18.6,"o":51,"c":40},{"t":18.65,"o":14,"c":16},{"t":18.7,"o":44,"c":39},{"t":18.75,"o":4,"c":2},{"t":18.8,"o":40,"c":38},{"t":18.85,"o":16,"c":18},{"t":18.9,"o":37,"c":35},{"t":18.95,"o":18,"c":20},{"t":19,"o":35,"c":33},{"t":19.05,"o":19,"c":21},{"t":19.1,"o":33,"c":32},{"t":19.15,"o":20,"c":22},{"t":19.2,"o":30,"c":30},{"t":19.25,"o":21,"c":23},{"t":19.3,"o":28,"c":29},{"t":19.35,"o":22,"c":24},{"t":19.4,"o":26,"c":28},
{"t":19.5,"o":20,"c":25},{"t":19.6,"o":18,"c":22},{"t":19.7,"o":15,"c":20},{"t":19.75,"o":14,"c":18},{"t":19.8,"o":12,"c":18},{"t":19.85,"o":5,"c":6},{"t":19.9,"o":15,"c":20},{"t":20,"o":17,"c":19}],
"rBL":[{"t":0,"r":1.07},{"t":0.2,"r":1.08},{"t":0.4,"r":1.13},{"t":0.6,"r":1.2},{"t":0.8,"r":1.24},{"t":0.9,"r":1.26},{"t":1,"r":1.15},{"t":1.1,"r":1.05},{"t":1.2,"r":1},{"t":1.3,"r":1.08},{"t":1.4,"r":1.15},{"t":1.5,"r":1.25},{"t":1.6,"r":1.3},{"t":1.7,"r":1.32},{"t":1.8,"r":1.3},{"t":1.9,"r":1.25},{"t":2,"r":1.15},{"t":2.1,"r":1.07},{"t":2.25,"r":0.97},{"t":2.4,"r":0.9},{"t":2.55,"r":0.87},{"t":2.7,"r":0.86},{"t":2.85,"r":0.92},{"t":3,"r":1},{"t":3.1,"r":1.15},{"t":3.2,"r":1.3},{"t":3.3,"r":1.42},{"t":3.45,"r":1.48},{"t":3.6,"r":1.49},{"t":3.8,"r":1.5},{"t":3.95,"r":1.55},{"t":4.1,"r":1.57},{"t":4.25,"r":1.55},{"t":4.4,"r":1.58},{"t":4.55,"r":1.6},{"t":4.7,"r":1.57},{"t":4.85,"r":1.55},{"t":5,"r":1.6},{"t":5.1,"r":1.72},{"t":5.2,"r":1.65},{"t":5.3,"r":1.55},{"t":5.45,"r":1.5},{"t":5.6,"r":1.4},{"t":5.75,"r":1.3},{"t":5.9,"r":1.2},{"t":6.05,"r":1.15},{"t":6.2,"r":1.17},{"t":6.35,"r":1.16},{"t":6.5,"r":1.18},{"t":6.65,"r":1.13},{"t":6.8,"r":1.14},{"t":6.9,"r":1.2},{"t":7.05,"r":1.35},{"t":7.2,"r":1.45},{"t":7.35,"r":1.55},{"t":7.5,"r":1.6},{"t":7.65,"r":1.58},{"t":7.8,"r":1.55},{"t":7.95,"r":1.6},{"t":8.1,"r":1.6},{"t":8.25,"r":1.63},{"t":8.4,"r":1.62},{"t":8.55,"r":1.65},{"t":8.7,"r":1.66},{"t":8.85,"r":1.68},{"t":9,"r":1.72},{"t":9.1,"r":1.75},{"t":9.2,"r":1.73},{"t":9.35,"r":1.72},{"t":9.5,"r":1.6},{"t":9.6,"r":1.45},{"t":9.7,"r":1.3},{"t":9.8,"r":1.15},{"t":9.9,"r":1.05},{"t":10,"r":1},{"t":10.1,"r":1.05},{"t":10.2,"r":1.1},{"t":10.3,"r":1.05},{"t":10.4,"r":1},{"t":10.5,"r":1.05},{"t":10.6,"r":1.12},{"t":10.75,"r":1.25},{"t":10.9,"r":1.4},{"t":11.05,"r":1.5},{"t":11.2,"r":1.55},{"t":11.35,"r":1.57},{"t":11.5,"r":1.55},{"t":11.65,"r":1.52},{"t":11.8,"r":1.55},{"t":11.95,"r":1.53},{"t":12.1,"r":1.55},{"t":12.25,"r":1.52},{"t":12.4,"r":1.55},{"t":12.55,"r":1.53},{"t":12.7,"r":1.55},{"t":12.85,"r":1.52},{"t":13,"r":1.54},{"t":13.15,"r":1.52},{"t":13.3,"r":1.55},{"t":13.45,"r":1.53},{"t":13.6,"r":1.55},{"t":13.75,"r":1.5},{"t":13.85,"r":1.4},{"t":13.95,"r":1.2},{"t":14.05,"r":1.05},{"t":14.15,"r":0.95},{"t":14.3,"r":0.88},{"t":14.45,"r":0.85},{"t":14.6,"r":0.85},{"t":14.75,"r":0.9},{"t":14.9,"r":0.95},{"t":15.05,"r":1.05},{"t":15.2,"r":1.15},{"t":15.35,"r":1.25},{"t":15.5,"r":1.32},{"t":15.65,"r":1.35},{"t":15.8,"r":1.33},{"t":15.95,"r":1.35},{"t":16.1,"r":1.38},{"t":16.25,"r":1.4},{"t":16.4,"r":1.42},{"t":16.55,"r":1.45},{"t":16.7,"r":1.43},{"t":16.85,"r":1.48},{"t":17,"r":1.5},{"t":17.15,"r":1.52},{"t":17.3,"r":1.58},{"t":17.45,"r":1.63},{"t":17.55,"r":1.66},{"t":17.65,"r":1.6},{"t":17.75,"r":1.5},{"t":17.85,"r":1.4},{"t":17.95,"r":1.3},{"t":18.05,"r":1.2},{"t":18.15,"r":1.1},{"t":18.3,"r":0.95},{"t":18.45,"r":0.85},{"t":18.6,"r":0.82},{"t":18.75,"r":0.88},{"t":18.9,"r":0.95},{"t":19.05,"r":1},{"t":19.2,"r":1.02},{"t":19.35,"r":1},{"t":19.5,"r":1.02},{"t":19.65,"r":1},{"t":19.8,"r":1.05},{"t":19.9,"r":1.12},{"t":20,"r":1.15}],
"hBR":[{"t":0,"h":93},{"t":0.1,"h":94},{"t":0.2,"h":95},{"t":0.3,"h":96},{"t":0.4,"h":97},{"t":0.5,"h":98},{"t":0.6,"h":100},{"t":0.7,"h":101.5},{"t":0.8,"h":94},{"t":0.9,"h":85},{"t":1,"h":88},{"t":1.1,"h":95},{"t":1.2,"h":102},{"t":1.3,"h":118},{"t":1.4,"h":118},{"t":1.5,"h":111},{"t":1.6,"h":116},{"t":1.7,"h":119},{"t":1.8,"h":122},{"t":1.9,"h":131},{"t":2,"h":140},{"t":2.1,"h":143},{"t":2.2,"h":146},{"t":2.3,"h":152},{"t":2.4,"h":157},{"t":2.5,"h":152},{"t":2.6,"h":148.5},{"t":2.7,"h":146},{"t":2.8,"h":144},{"t":2.9,"h":143},{"t":3,"h":143},{"t":3.1,"h":142},{"t":3.2,"h":142},{"t":3.3,"h":140},{"t":3.4,"h":137.6},{"t":3.5,"h":135},{"t":3.6,"h":133},{"t":3.7,"h":130},{"t":3.8,"h":126.6},{"t":3.9,"h":125},{"t":4,"h":124.5},{"t":4.1,"h":122},{"t":4.2,"h":120},{"t":4.3,"h":121},{"t":4.4,"h":122},{"t":4.5,"h":119},{"t":4.6,"h":118},{"t":4.7,"h":119},{"t":4.8,"h":120},{"t":4.9,"h":117},{"t":5,"h":115.7},{"t":5.1,"h":109},{"t":5.2,"h":114.6},{"t":5.3,"h":113},{"t":5.4,"h":112},{"t":5.5,"h":118},{"t":5.6,"h":124.5},{"t":5.7,"h":130},{"t":5.8,"h":135.4},{"t":5.9,"h":143},{"t":6,"h":150.7},{"t":6.1,"h":157},{"t":6.2,"h":162.7},{"t":6.3,"h":162.7},{"t":6.4,"h":158},{"t":6.5,"h":155},{"t":6.6,"h":152},{"t":6.7,"h":148.5},{"t":6.8,"h":146},{"t":6.9,"h":144},{"t":7,"h":140},{"t":7.1,"h":135.4},{"t":7.2,"h":132},{"t":7.3,"h":128.8},{"t":7.4,"h":127.5},{"t":7.5,"h":126.6},{"t":7.6,"h":126},{"t":7.7,"h":125},{"t":7.8,"h":124.5},{"t":7.9,"h":123},{"t":8,"h":122},{"t":8.1,"h":121},{"t":8.2,"h":120.5},{"t":8.3,"h":120},{"t":8.4,"h":119.5},{"t":8.5,"h":119},{"t":8.6,"h":119},{"t":8.7,"h":118},{"t":8.8,"h":116.8},{"t":8.9,"h":117.5},{"t":9,"h":118},{"t":9.1,"h":121},{"t":9.2,"h":124.5},{"t":9.3,"h":130},{"t":9.4,"h":135.4},{"t":9.5,"h":140},{"t":9.6,"h":144},{"t":9.7,"h":148},{"t":9.8,"h":153},{"t":9.9,"h":157},{"t":10,"h":161.6},{"t":10.1,"h":165},{"t":10.2,"h":168},{"t":10.35,"h":172.5},{"t":10.5,"h":168},{"t":10.6,"h":163},{"t":10.7,"h":159.5},{"t":10.8,"h":157},{"t":10.9,"h":155},{"t":11,"h":152},{"t":11.1,"h":149.6},{"t":11.2,"h":149},{"t":11.3,"h":148.5},{"t":11.4,"h":146},{"t":11.5,"h":144},{"t":11.6,"h":142},{"t":11.7,"h":139.8},{"t":11.8,"h":137.5},{"t":11.9,"h":135.4},{"t":12,"h":133},{"t":12.1,"h":131},{"t":12.2,"h":132},{"t":12.3,"h":133},{"t":12.4,"h":132},{"t":12.5,"h":131},{"t":12.6,"h":127.8},{"t":12.7,"h":130},{"t":12.8,"h":133},{"t":12.9,"h":132},{"t":13,"h":132},{"t":13.1,"h":134},{"t":13.2,"h":135.4},{"t":13.3,"h":137},{"t":13.4,"h":139.8},{"t":13.5,"h":141},{"t":13.6,"h":142},{"t":13.7,"h":145},{"t":13.8,"h":148.5},{"t":13.9,"h":154},{"t":14,"h":159.5},{"t":14.1,"h":164},{"t":14.2,"h":168},{"t":14.3,"h":171},{"t":14.4,"h":173.6},{"t":14.5,"h":173},{"t":14.6,"h":172.5},{"t":14.7,"h":168},{"t":14.8,"h":163.8},{"t":14.9,"h":160},{"t":15,"h":157},{"t":15.1,"h":155},{"t":15.2,"h":153},{"t":15.3,"h":150},{"t":15.4,"h":146},{"t":15.5,"h":144},{"t":15.6,"h":142},{"t":15.7,"h":140},{"t":15.8,"h":137.6},{"t":15.9,"h":135},{"t":16,"h":133},{"t":16.1,"h":132.5},{"t":16.2,"h":132},{"t":16.3,"h":131.5},{"t":16.4,"h":131},{"t":16.5,"h":129},{"t":16.6,"h":126.6},{"t":16.7,"h":131},{"t":16.8,"h":125.5},{"t":16.9,"h":123},{"t":17,"h":121},{"t":17.1,"h":120},{"t":17.2,"h":124},{"t":17.3,"h":128.8},{"t":17.4,"h":133},{"t":17.5,"h":137.6},{"t":17.6,"h":142},{"t":17.7,"h":146},{"t":17.8,"h":150},{"t":17.9,"h":153},{"t":18,"h":157},{"t":18.1,"h":161.6},{"t":18.2,"h":165},{"t":18.3,"h":168},{"t":18.4,"h":171},{"t":18.5,"h":173.6},{"t":18.65,"h":174.7},{"t":18.8,"h":170},{"t":18.9,"h":165},{"t":19,"h":159.5},{"t":19.1,"h":156},{"t":19.2,"h":153},{"t":19.3,"h":149},{"t":19.4,"h":146},{"t":19.5,"h":145},{"t":19.6,"h":144},{"t":19.7,"h":142},{"t":19.8,"h":139.8},{"t":19.9,"h":137},{"t":20,"h":135.4}],
"vBR":[{"t":0,"v":17.5},{"t":0.1,"v":16},{"t":0.2,"v":19.6},{"t":0.3,"v":18.5},{"t":0.4,"v":20.7},{"t":0.5,"v":18.5},{"t":0.6,"v":7.6},{"t":0.7,"v":6.5},{"t":0.8,"v":11},{"t":0.9,"v":9.8},{"t":1,"v":12},{"t":1.1,"v":18.5},{"t":1.2,"v":27},{"t":1.3,"v":30.5},{"t":1.4,"v":26},{"t":1.5,"v":16},{"t":1.6,"v":19.6},{"t":1.7,"v":20.7},{"t":1.8,"v":31.6},{"t":1.85,"v":25},{"t":1.9,"v":42},{"t":1.95,"v":28},{"t":2,"v":50},{"t":2.05,"v":35},{"t":2.1,"v":60},{"t":2.15,"v":40},{"t":2.2,"v":66},{"t":2.25,"v":45},{"t":2.3,"v":73},{"t":2.35,"v":48},{"t":2.4,"v":70},{"t":2.45,"v":47},{"t":2.5,"v":69},{"t":2.55,"v":44},{"t":2.6,"v":68},{"t":2.65,"v":46},{"t":2.7,"v":66},{"t":2.75,"v":45},{"t":2.8,"v":63},{"t":2.85,"v":47},{"t":2.9,"v":60},{"t":2.95,"v":48},{"t":3,"v":56},{"t":3.1,"v":53},{"t":3.2,"v":50},{"t":3.3,"v":47},{"t":3.4,"v":42},{"t":3.5,"v":38},{"t":3.6,"v":35},{"t":3.7,"v":32},{"t":3.8,"v":37},{"t":3.9,"v":36},{"t":4,"v":30},{"t":4.1,"v":29},{"t":4.2,"v":35},{"t":4.3,"v":36},{"t":4.4,"v":33},{"t":4.5,"v":32},{"t":4.6,"v":38},{"t":4.7,"v":38},{"t":4.8,"v":33},{"t":4.9,"v":34},{"t":5,"v":27},{"t":5.1,"v":42},{"t":5.2,"v":30},{"t":5.3,"v":21},{"t":5.35,"v":12},{"t":5.4,"v":8},{"t":5.45,"v":15},{"t":5.5,"v":21},{"t":5.55,"v":27},{"t":5.6,"v":30},{"t":5.65,"v":50},{"t":5.7,"v":28},{"t":5.75,"v":55},{"t":5.8,"v":27},{"t":5.85,"v":60},{"t":5.9,"v":30},{"t":5.95,"v":64},{"t":6,"v":28},{"t":6.05,"v":68},{"t":6.1,"v":32},{"t":6.15,"v":73},{"t":6.2,"v":35},{"t":6.25,"v":76},{"t":6.3,"v":40},{"t":6.35,"v":77},{"t":6.4,"v":45},{"t":6.45,"v":75},{"t":6.5,"v":48},{"t":6.55,"v":73},{"t":6.6,"v":50},{"t":6.65,"v":68},{"t":6.7,"v":52},{"t":6.75,"v":64},{"t":6.8,"v":55},{"t":6.9,"v":56},{"t":7,"v":52},{"t":7.1,"v":49},{"t":7.2,"v":50},{"t":7.3,"v":47},{"t":7.4,"v":44},{"t":7.5,"v":42},{"t":7.6,"v":46},{"t":7.7,"v":45},{"t":7.8,"v":41},{"t":7.9,"v":40},{"t":8,"v":39},{"t":8.1,"v":38},{"t":8.2,"v":35},{"t":8.3,"v":36},{"t":8.4,"v":33},{"t":8.5,"v":34},{"t":8.6,"v":37},{"t":8.7,"v":36},{"t":8.8,"v":33},{"t":8.9,"v":33},{"t":9,"v":35},{"t":9.1,"v":36},{"t":9.2,"v":38},{"t":9.3,"v":42},{"t":9.35,"v":30},{"t":9.4,"v":20},{"t":9.45,"v":45},{"t":9.5,"v":14},{"t":9.55,"v":53},{"t":9.6,"v":18},{"t":9.65,"v":62},{"t":9.7,"v":22},{"t":9.75,"v":75},{"t":9.8,"v":27},{"t":9.85,"v":82},{"t":9.9,"v":32},{"t":9.95,"v":90},{"t":10,"v":38},{"t":10.05,"v":95},{"t":10.1,"v":42},{"t":10.15,"v":93},{"t":10.2,"v":45},{"t":10.25,"v":91},{"t":10.3,"v":46},{"t":10.35,"v":88},{"t":10.4,"v":47},{"t":10.45,"v":86},{"t":10.5,"v":50},{"t":10.55,"v":75},{"t":10.6,"v":70},{"t":10.7,"v":64},{"t":10.8,"v":60},{"t":10.9,"v":62},{"t":11,"v":58},{"t":11.1,"v":58},{"t":11.2,"v":55},{"t":11.3,"v":53},{"t":11.4,"v":57},{"t":11.5,"v":55},{"t":11.6,"v":50},{"t":11.7,"v":51},{"t":11.8,"v":48},{"t":11.9,"v":47},{"t":12,"v":50},{"t":12.1,"v":49},{"t":12.2,"v":45},{"t":12.3,"v":45},{"t":12.4,"v":48},{"t":12.5,"v":47},{"t":12.6,"v":42},{"t":12.7,"v":43},{"t":12.8,"v":46},{"t":12.9,"v":45},{"t":13,"v":40},{"t":13.1,"v":40},{"t":13.2,"v":44},{"t":13.3,"v":47},{"t":13.4,"v":40},{"t":13.5,"v":38},{"t":13.6,"v":36},{"t":13.7,"v":34},{"t":13.8,"v":21},{"t":13.85,"v":40},{"t":13.9,"v":12},{"t":13.95,"v":45},{"t":14,"v":15},{"t":14.05,"v":60},{"t":14.1,"v":21},{"t":14.15,"v":73},{"t":14.2,"v":28},{"t":14.25,"v":85},{"t":14.3,"v":38},{"t":14.35,"v":93},{"t":14.4,"v":45},{"t":14.45,"v":100},{"t":14.5,"v":53},{"t":14.55,"v":104},{"t":14.6,"v":55},{"t":14.65,"v":100},{"t":14.7,"v":58},{"t":14.75,"v":97},{"t":14.8,"v":60},{"t":14.85,"v":92},{"t":14.9,"v":62},{"t":14.95,"v":86},{"t":15,"v":65},{"t":15.1,"v":73},{"t":15.2,"v":68},{"t":15.3,"v":64},{"t":15.4,"v":60},{"t":15.5,"v":62},{"t":15.6,"v":58},{"t":15.7,"v":58},{"t":15.8,"v":53},{"t":15.9,"v":49},{"t":16,"v":52},{"t":16.1,"v":51},{"t":16.2,"v":47},{"t":16.3,"v":45},{"t":16.4,"v":48},{"t":16.5,"v":47},{"t":16.6,"v":42},{"t":16.7,"v":38},{"t":16.8,"v":41},{"t":16.9,"v":42},{"t":17,"v":32},{"t":17.05,"v":60},{"t":17.1,"v":79},{"t":17.15,"v":40},{"t":17.2,"v":27},{"t":17.3,"v":16},{"t":17.4,"v":22},{"t":17.5,"v":25},{"t":17.6,"v":24},{"t":17.7,"v":23},{"t":17.8,"v":25},{"t":17.9,"v":27},{"t":18,"v":24},{"t":18.1,"v":25},{"t":18.2,"v":27},{"t":18.25,"v":29},{"t":18.3,"v":45},{"t":18.35,"v":22},{"t":18.4,"v":53},{"t":18.45,"v":24},{"t":18.5,"v":65},{"t":18.55,"v":26},{"t":18.6,"v":82},{"t":18.65,"v":29},{"t":18.7,"v":92},{"t":18.75,"v":32},{"t":18.8,"v":101},{"t":18.85,"v":36},{"t":18.9,"v":98},{"t":18.95,"v":40},{"t":19,"v":95},{"t":19.05,"v":43},{"t":19.1,"v":90},{"t":19.15,"v":50},{"t":19.2,"v":86},{"t":19.25,"v":55},{"t":19.3,"v":80},{"t":19.35,"v":58},{"t":19.4,"v":73},{"t":19.45,"v":60},{"t":19.5,"v":62},{"t":19.6,"v":56},{"t":19.7,"v":51},{"t":19.75,"v":45},{"t":19.8,"v":38},{"t":19.85,"v":16},{"t":19.9,"v":47},{"t":20,"v":51}]
},
"columns":2,
"spacing":{"row":35,"column":106},
"bounds":"flush",
"resolve":{"scale":{"color":"independent","fill":"independent"},"legend":{"color":"independent"}},
"concat":[
{"width":225.5,"height":194,
"layer":[
{"data":{"name":"bTL"},"mark":{"type":"rect"},"encoding":{"x":{"field":"a","type":"quantitative","scale":{"domain":[0,20],"nice":false},"axis":{"values":[0,5,10,15,20],"format":"d","title":"Exercise time (min)","labelPadding":5,"titlePadding":3,"titleFontSize":9.5,"labelOverlap":false}},"x2":{"field":"b"},"fill":{"field":"k","type":"nominal","scale":{"domain":["Ex","Rest"],"range":["#B0C4E8","#EDEDED"]},"legend":null}}},
{"layer":[
{"data":{"name":"TL"},"transform":[{"fold":["o","c"],"as":["s","v"]}],"mark":{"type":"line","strokeWidth":1.1},"encoding":{"x":{"field":"t","type":"quantitative","scale":{"domain":[0,20],"nice":false}},"y":{"field":"v","type":"quantitative","scale":{"domain":[0,68.47],"nice":false},"axis":{"orient":"left","values":[0,10,20,30,40,50,60],"format":".1f","title":"VO₂ or VCO₂ (ml/kg/min)","labelOverlap":false}},"color":{"field":"s","type":"nominal","scale":{"domain":["o","c","r"],"range":["#0070C0","#D00000","#8040C0"]},"legend":{"orient":"none","legendX":264.5,"legendY":95,"title":null,"labelExpr":"datum.label=='o'?'VO₂':datum.label=='c'?'VCO₂':'RER'"}}}},
{"data":{"name":"bTL"},"mark":{"type":"text","fontSize":7,"fontWeight":"bold","color":"#222222"},"encoding":{"x":{"field":"m","type":"quantitative","scale":{"domain":[0,20],"nice":false}},"y":{"datum":66,"scale":{"domain":[0,68.47],"nice":false}},"text":{"field":"k"}}},
{"data":{"values":[{"lab":"VO₂max= 49.9 ml/kg/min","v":49.4}]},"mark":{"type":"rule","color":"#595959","strokeWidth":1.2},"encoding":{"y":{"field":"v","type":"quantitative","scale":{"domain":[0,68.47],"nice":false}}}},
{"data":{"values":[{"lab":"VO₂max= 49.9 ml/kg/min","v":49.4}]},"mark":{"type":"text","fontSize":7.5,"color":"#222222"},"encoding":{"x":{"datum":10.2,"scale":{"domain":[0,20],"nice":false}},"y":{"datum":58,"scale":{"domain":[0,68.47],"nice":false}},"text":{"field":"lab"}}},
{"data":{"values":[{"p":"A"}]},"mark":{"type":"text","fontSize":10,"fontWeight":"bold","color":"#222222"},"encoding":{"x":{"datum":-3.8,"scale":{"domain":[0,20],"nice":false}},"y":{"datum":56.5,"scale":{"domain":[0,68.47],"nice":false}},"text":{"field":"p"}}}
]},
{"data":{"name":"rTL"},"mark":{"type":"line","strokeWidth":1.3},"encoding":{"x":{"field":"t","type":"quantitative","scale":{"domain":[0,20],"nice":false}},"y":{"field":"r","type":"quantitative","scale":{"domain":[0,1.898],"nice":false},"axis":{"orient":"right","values":[0,0.2,0.4,0.6,0.8,1,1.2,1.4,1.6,1.8],"format":".1f","title":"RER","domain":false,"titlePadding":7,"labelOverlap":false}},"color":{"datum":"r"}}}
],
"resolve":{"scale":{"y":"independent"}}},
{"width":217,"height":193,
"layer":[
{"data":{"name":"bTR"},"mark":{"type":"rect"},"encoding":{"x":{"field":"a","type":"quantitative","scale":{"domain":[0,20],"nice":false},"axis":{"values":[0,5,10,15,20],"format":"d","title":"Exercise time (min)","labelPadding":5,"titlePadding":3,"titleFontSize":9.5,"labelOverlap":false}},"x2":{"field":"b"},"fill":{"field":"k","type":"nominal","scale":{"domain":["Ex","Rest"],"range":["#B0C4E8","#EDEDED"]},"legend":null}}},
{"data":{"name":"bTR"},"mark":{"type":"text","fontSize":7,"fontWeight":"bold","color":"#222222"},"encoding":{"x":{"field":"m","type":"quantitative","scale":{"domain":[0,20],"nice":false}},"y":{"datum":182.6,"scale":{"domain":[60,186.6],"nice":false,"zero":false},"axis":null},"text":{"field":"k"}}},
{"data":{"name":"vTR"},"mark":{"type":"line","strokeWidth":1.1},"encoding":{"x":{"field":"t","type":"quantitative","scale":{"domain":[0,20],"nice":false}},"y":{"field":"v","type":"quantitative","scale":{"domain":[0,126.6],"nice":false},"axis":{"orient":"right","values":[0,20,40,60,80,100,120],"format":".1f","title":"VE (L/min)","domain":false,"labelPadding":5,"labelOverlap":false}},"color":{"datum":"VE"}}},
{"data":{"name":"hTR"},"mark":{"type":"line","strokeWidth":1.2},"encoding":{"x":{"field":"t","type":"quantitative","scale":{"domain":[0,20],"nice":false}},"y":{"field":"h","type":"quantitative","scale":{"domain":[60,186.6],"nice":false,"zero":false},"axis":{"orient":"left","values":[60,80,100,120,140,160,180],"tickCount":7,"format":"d","title":"HR (bpm)","labelPadding":5,"labelOverlap":false}},"color":{"datum":"HR","scale":{"domain":["HR","VE"],"range":["#00B050","#404040"]},"legend":{"orient":"none","legendX":261,"legendY":105,"title":null,"labelOffset":1}}}}
],
"resolve":{"scale":{"y":"independent"}}},
{"width":225.5,"height":195,
"layer":[
{"data":{"name":"bBL"},"mark":{"type":"rect"},"encoding":{"x":{"field":"a","type":"quantitative","scale":{"domain":[0,20],"nice":false},"axis":{"values":[0,5,10,15,20],"format":"d","title":"Exercise time (min)","labelPadding":5,"titlePadding":3,"titleFontSize":9.5,"labelOverlap":false}},"x2":{"field":"b"},"fill":{"field":"k","type":"nominal","scale":{"domain":["Ex","Rest"],"range":["#B0C4E8","#EDEDED"]},"legend":null}}},
{"layer":[
{"data":{"name":"BL"},"transform":[{"fold":["o","c"],"as":["s","v"]}],"mark":{"type":"line","strokeWidth":1.1},"encoding":{"x":{"field":"t","type":"quantitative","scale":{"domain":[0,20],"nice":false}},"y":{"field":"v","type":"quantitative","scale":{"domain":[0,61.26],"nice":false},"axis":{"orient":"left","values":[0,10,20,30,40,50,60],"format":".1f","title":"VO₂ or VCO₂ (ml/kg/min)","labelOverlap":false}},"color":{"field":"s","type":"nominal","scale":{"domain":["o","c","r"],"range":["#0070C0","#D00000","#8040C0"]},"legend":{"orient":"none","legendX":264.5,"legendY":94,"title":null,"labelExpr":"datum.label=='o'?'VO₂':datum.label=='c'?'VCO₂':'RER'"}}}},
{"data":{"name":"bBL"},"mark":{"type":"text","fontSize":7,"fontWeight":"bold","color":"#222222"},"encoding":{"x":{"field":"m","type":"quantitative","scale":{"domain":[0,20],"nice":false}},"y":{"datum":59.4,"scale":{"domain":[0,61.26],"nice":false}},"text":{"field":"k"}}},
{"data":{"values":[{"lab":"VO₂max= 46.9 ml/kg/min","v":45.8}]},"mark":{"type":"rule","color":"#595959","strokeWidth":1.2},"encoding":{"y":{"field":"v","type":"quantitative","scale":{"domain":[0,61.26],"nice":false}}}},
{"data":{"values":[{"lab":"VO₂max= 46.9 ml/kg/min","v":45.8}]},"mark":{"type":"text","fontSize":7.5,"color":"#222222"},"encoding":{"x":{"datum":10.6,"scale":{"domain":[0,20],"nice":false}},"y":{"datum":54.4,"scale":{"domain":[0,61.26],"nice":false}},"text":{"field":"lab"}}},
{"data":{"values":[{"p":"B"}]},"mark":{"type":"text","fontSize":10,"fontWeight":"bold","color":"#222222"},"encoding":{"x":{"datum":-3.77,"scale":{"domain":[0,20],"nice":false}},"y":{"datum":52.5,"scale":{"domain":[0,61.26],"nice":false}},"text":{"field":"p"}}}
]},
{"data":{"name":"rBL"},"mark":{"type":"line","strokeWidth":1.3},"encoding":{"x":{"field":"t","type":"quantitative","scale":{"domain":[0,20],"nice":false}},"y":{"field":"r","type":"quantitative","scale":{"domain":[0,2.042],"nice":false},"axis":{"orient":"right","values":[0,0.2,0.4,0.6,0.8,1,1.2,1.4,1.6,1.8,2],"format":".1f","title":"RER","domain":false,"titlePadding":7,"labelOverlap":false}},"color":{"datum":"r"}}}
],
"resolve":{"scale":{"y":"independent"}}},
{"width":218,"height":197,
"layer":[
{"data":{"name":"bBR"},"mark":{"type":"rect"},"encoding":{"x":{"field":"a","type":"quantitative","scale":{"domain":[0,20],"nice":false},"axis":{"values":[0,5,10,15,20],"format":"d","title":"Exercise time (min)","labelPadding":5,"titlePadding":3,"titleFontSize":9.5,"labelOverlap":false}},"x2":{"field":"b"},"y":{"datum":60,"scale":{"domain":[60,189.2],"nice":false,"zero":false},"axis":null},"y2":{"datum":182},"fill":{"field":"k","type":"nominal","scale":{"domain":["Ex","Rest"],"range":["#B0C4E8","#EDEDED"]},"legend":null}}},
{"data":{"name":"bBR"},"mark":{"type":"text","fontSize":7,"fontWeight":"bold","color":"#222222"},"encoding":{"x":{"field":"m","type":"quantitative","scale":{"domain":[0,20],"nice":false}},"y":{"datum":178.7,"scale":{"domain":[60,189.2],"nice":false,"zero":false},"axis":null},"text":{"field":"k"}}},
{"data":{"name":"vBR"},"mark":{"type":"line","strokeWidth":1.1},"encoding":{"x":{"field":"t","type":"quantitative","scale":{"domain":[0,20],"nice":false}},"y":{"field":"v","type":"quantitative","scale":{"domain":[0,129.2],"nice":false},"axis":{"orient":"right","values":[0,20,40,60,80,100,120],"format":".1f","title":"VE (L/min)","domain":false,"labelPadding":5,"labelOverlap":false}},"color":{"datum":"VE"}}},
{"data":{"name":"hBR"},"mark":{"type":"line","strokeWidth":1.2},"encoding":{"x":{"field":"t","type":"quantitative","scale":{"domain":[0,20],"nice":false}},"y":{"field":"h","type":"quantitative","scale":{"domain":[60,189.2],"nice":false,"zero":false},"axis":{"orient":"left","values":[60,80,100,120,140,160,180],"tickCount":7,"format":"d","title":"HR (bpm)","labelPadding":5,"labelOverlap":false}},"color":{"datum":"HR","scale":{"domain":["HR","VE"],"range":["#00B050","#404040"]},"legend":{"orient":"none","legendX":261,"legendY":101,"title":null,"labelOffset":1}}}}
],
"resolve":{"scale":{"y":"independent"}}}
]
}
